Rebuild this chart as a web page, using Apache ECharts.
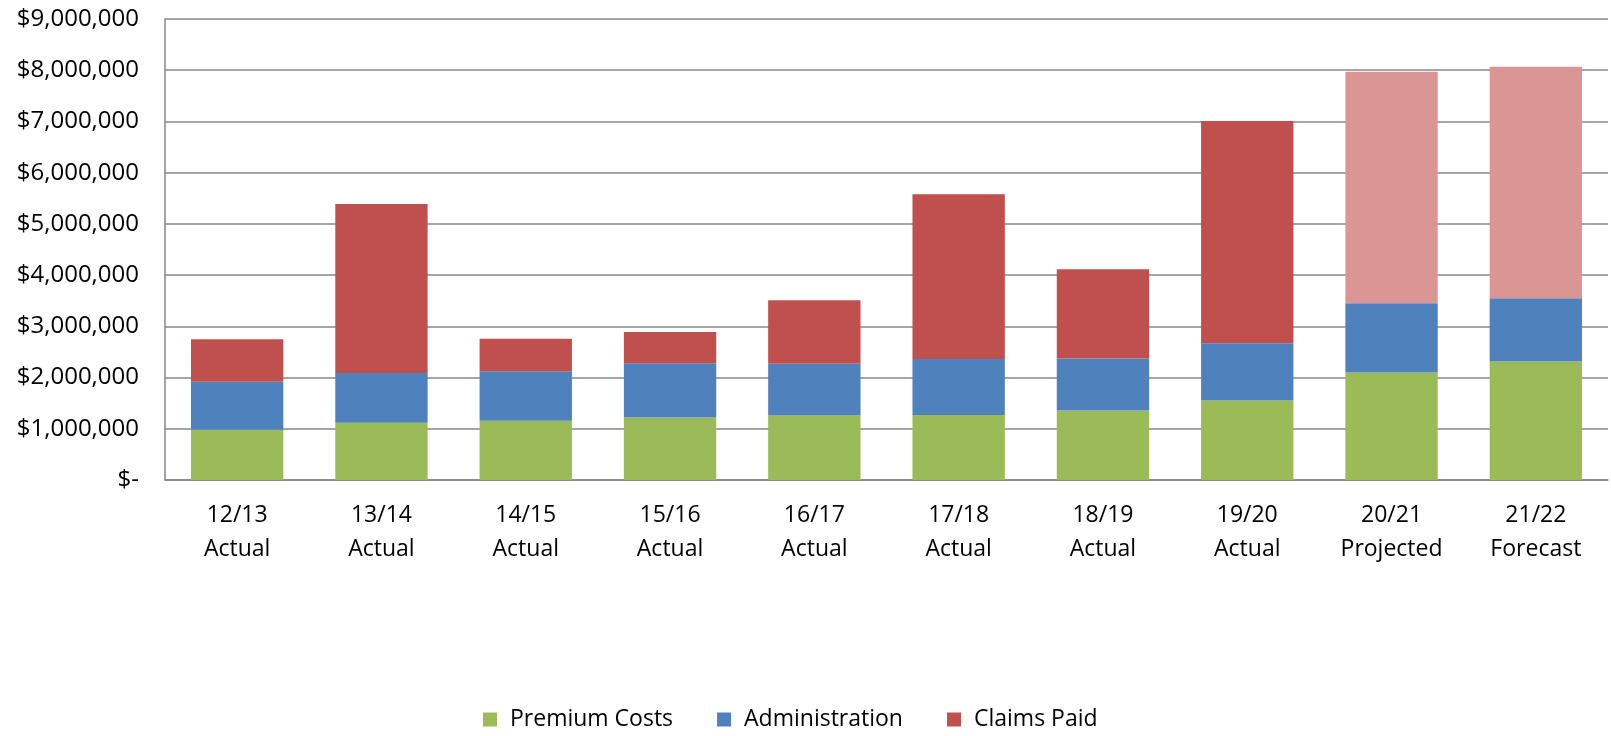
<!DOCTYPE html>
<html>
<head>
<meta charset="utf-8">
<script src="https://cdn.jsdelivr.net/npm/echarts@6/dist/echarts.min.js"></script>
<style>
  html, body { margin: 0; padding: 0; background: #fff; }
  #container { width: 1611px; height: 736px; }
</style>
</head>
<body>
<div id="container"></div>
<script>
// categories (year + status)
var years = ['12/13\nActual', '13/14\nActual', '14/15\nActual', '15/16\nActual', '16/17\nActual',
             '17/18\nActual', '18/19\nActual', '19/20\nActual', '20/21\nProjected', '21/22\nForecast'];
// stacked values, dollars
var premiumCosts   = [980000, 1120000, 1155000, 1220000, 1260000, 1270000, 1356000, 1550000, 2100000, 2315000];
var administration = [940000,  970000,  970000, 1060000, 1010000, 1090000, 1014000, 1120000, 1350000, 1235000];
var claimsPaid     = [830000, 3300000,  635000,  610000, 1240000, 3220000, 1745000, 4340000, 4520000, 4520000];

var fontName = '"Open Sans", "Noto Sans", sans-serif';
var gridGray = '#878787';

// claims that are not actual yet get the light red
var claimsData = [];
for (var i = 0; i < claimsPaid.length; i++) {
    if (years[i].indexOf('Actual') >= 0) {
        claimsData.push(claimsPaid[i]);
    } else {
        claimsData.push({ value: claimsPaid[i], itemStyle: { color: '#D99694' } });
    }
}

var myChart = echarts.init(document.getElementById('container'));
var option = {
    animation: false,
    textStyle: { fontFamily: fontName },
    grid: { left: 165, right: 3, top: 19, bottom: 256, containLabel: false },
    legend: {
        left: 478,
        top: 703,
        icon: 'rect',
        itemWidth: 14,
        itemHeight: 14,
        itemGap: 44,
        textStyle: { fontSize: 23, color: '#000', fontFamily: fontName, padding: [0, 0, 0, 8] },
        data: ['Premium Costs', 'Administration', 'Claims Paid']
    },
    xAxis: {
        type: 'category',
        data: years,
        axisLine: { lineStyle: { color: gridGray, width: 1.5 } },
        axisTick: { show: false },
        axisLabel: { fontSize: 23, color: '#000', lineHeight: 34, margin: 18, interval: 0 }
    },
    yAxis: {
        type: 'value',
        min: 0,
        max: 9000000,
        interval: 1000000,
        axisLine: { show: true, lineStyle: { color: gridGray, width: 1.5 } },
        axisTick: { show: false },
        splitLine: { lineStyle: { color: gridGray, width: 1.5 } },
        axisLabel: {
            fontSize: 24,
            color: '#000',
            margin: 26,
            formatter: function (v) {
                if (v === 0) return '$-';
                return '$' + v.toLocaleString('en-US');
            }
        }
    },
    series: [
        {
            name: 'Premium Costs',
            type: 'bar',
            stack: 'total',
            barWidth: '64%',
            itemStyle: { color: '#9BBB59' },
            data: premiumCosts
        },
        {
            name: 'Administration',
            type: 'bar',
            stack: 'total',
            itemStyle: { color: '#4F81BD' },
            data: administration
        },
        {
            name: 'Claims Paid',
            type: 'bar',
            stack: 'total',
            itemStyle: { color: '#C0504D' },
            data: claimsData
        }
    ]
};
myChart.setOption(option);
</script>
</body>
</html>
